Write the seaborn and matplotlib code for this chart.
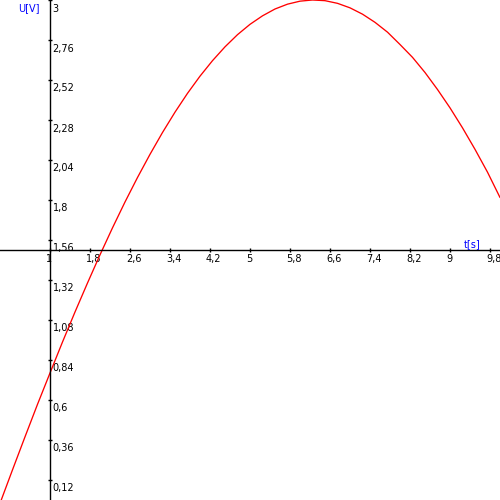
import matplotlib
matplotlib.use("Agg")
import matplotlib.pyplot as plt
from matplotlib.transforms import ScaledTranslation
import seaborn as sns
import pandas as pd

# Curve samples (t in s, U in V), every 0.25 s
t_values = [0.0, 0.25, 0.5, 0.75, 1.0, 1.25, 1.5, 1.75, 2.0, 2.25,
            2.5, 2.75, 3.0, 3.25, 3.5, 3.75, 4.0, 4.25, 4.5, 4.75,
            5.0, 5.25, 5.5, 5.75, 6.0, 6.25, 6.5, 6.75, 7.0, 7.25,
            7.5, 7.75, 8.0, 8.25, 8.5, 8.75, 9.0, 9.25, 9.5, 9.75, 10.0]
u_values = [-0.02, 0.181, 0.379, 0.574, 0.762, 0.948, 1.128, 1.302, 1.471, 1.633,
            1.788, 1.935, 2.074, 2.205, 2.327, 2.440, 2.543, 2.636, 2.719, 2.792,
            2.854, 2.905, 2.946, 2.975, 2.993, 3.000, 2.996, 2.980, 2.953, 2.915,
            2.866, 2.807, 2.733, 2.656, 2.565, 2.463, 2.353, 2.233, 2.104, 1.967, 1.815]

x_ticks = [1, 1.8, 2.6, 3.4, 4.2, 5, 5.8, 6.6, 7.4, 8.2, 9, 9.8]
x_tick_labels = ["1", "1,8", "2,6", "3,4", "4,2", "5", "5,8", "6,6", "7,4", "8,2", "9", "9,8"]
y_ticks = [0.12, 0.36, 0.6, 0.84, 1.08, 1.32, 1.56, 1.8, 2.04, 2.28, 2.52, 2.76, 3.0]
y_tick_labels = ["0,12", "0,36", "0,6", "0,84", "1,08", "1,32", "1,56", "1,8",
                 "2,04", "2,28", "2,52", "2,76", "3"]
x_label = "t[s]"
y_label = "U[V]"

sns.set_style("white")
plt.rcParams['font.family'] = ['DejaVu Sans']

df = pd.DataFrame({"t": t_values, "U": u_values})

fig = plt.figure(figsize=(5, 5), dpi=100)
ax = fig.add_axes([0, 0, 1, 1])
sns.lineplot(data=df, x="t", y="U", ax=ax, color="#ff0000", linewidth=0.95)

ax.set_xlim(0, 10)
ax.set_ylim(0, 3)
ax.set_xlabel("")
ax.set_ylabel("")

ax.spines['top'].set_visible(False)
ax.spines['left'].set_visible(False)
ax.spines['right'].set_position(('data', 1))
ax.spines['bottom'].set_position(('data', 1.5))
for s in ('right', 'bottom'):
    ax.spines[s].set_color('black')
    ax.spines[s].set_linewidth(1.0)
ax.yaxis.tick_right()
ax.xaxis.tick_bottom()

ax.set_xticks(x_ticks)
ax.set_xticklabels(x_tick_labels)
ax.set_yticks(y_ticks)
ax.set_yticklabels(y_tick_labels)

ax.tick_params(axis='both', direction='inout', length=3.3, width=1.0,
               color='black', labelsize=7, labelcolor='black')
ax.tick_params(axis='x', pad=1.0)
ax.tick_params(axis='y', pad=0.2)

for lab in ax.get_xticklabels():
    lab.set_ha('left')
    lab.set_transform(lab.get_transform() + ScaledTranslation(-4 / 100, 0, fig.dpi_scale_trans))
for lab in ax.get_yticklabels():
    lab.set_va('top')
    lab.set_transform(lab.get_transform() + ScaledTranslation(0, -3.5 / 100, fig.dpi_scale_trans))

ax.text(0.36, 2.984, y_label, color='#0000ff', fontsize=7, ha='left', va='top')
ax.text(9.27, 1.518, x_label, color='#0000ff', fontsize=7, ha='left', va='baseline')

fig.savefig("out.png", dpi=100)
